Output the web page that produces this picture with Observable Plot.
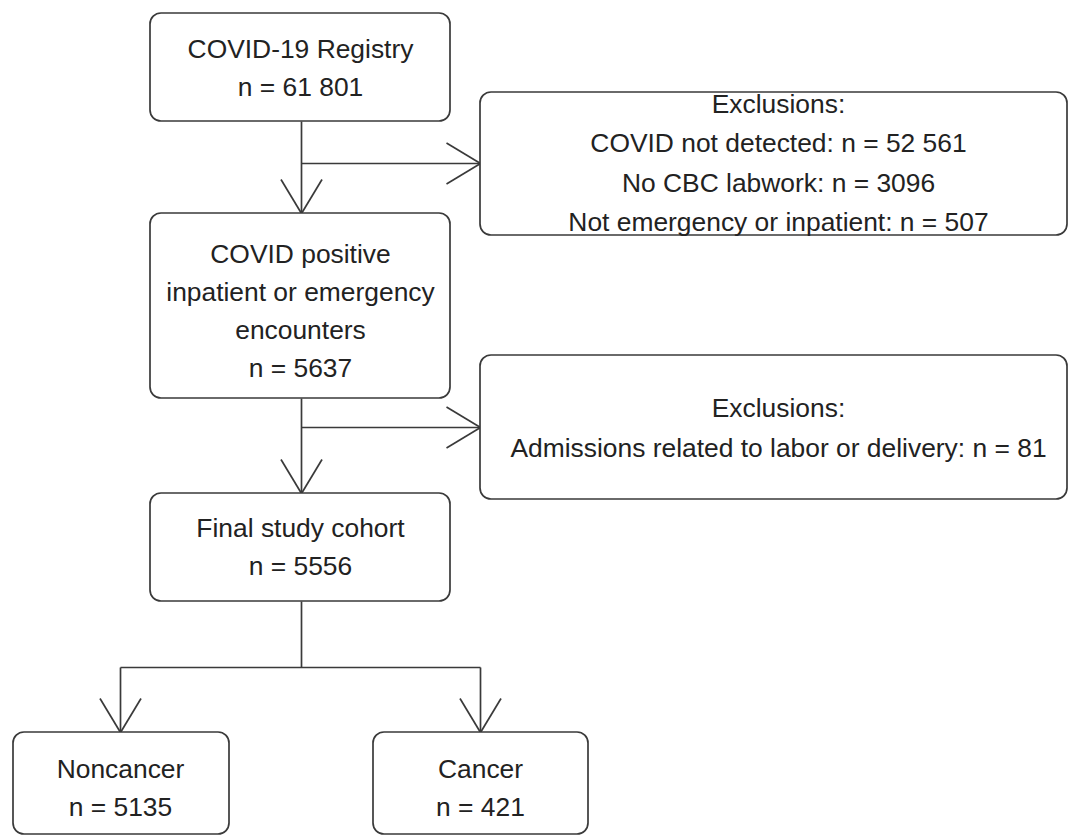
<!DOCTYPE html>
<html>
<head>
<meta charset="utf-8">
<script src="https://cdn.jsdelivr.net/npm/d3@7"></script>
<script src="https://cdn.jsdelivr.net/npm/@observablehq/plot@0.6"></script>
<style>
  html, body { margin: 0; padding: 0; background: #fff; }
  #chart svg { display: block; }
</style>
</head>
<body>
<div id="chart"></div>
<script>
// ---- Data: flowchart node titles and counts ----
const nodeTitles = [
  ["COVID-19 Registry"],
  ["Exclusions:", "COVID not detected", "No CBC labwork", "Not emergency or inpatient"],
  ["COVID positive", "inpatient or emergency", "encounters"],
  ["Exclusions:", "Admissions related to labor or delivery"],
  ["Final study cohort"],
  ["Noncancer"],
  ["Cancer"]
];
// counts per node (exclusion boxes list one count per reason)
const nodeCounts = [
  [61801],
  [52561, 3096, 507],
  [5637],
  [81],
  [5556],
  [5135],
  [421]
];
// node kind: "step" boxes show the count on its own line, "exclusion" boxes inline
const nodeKind = ["step", "exclusion", "step", "exclusion", "step", "step", "step"];

// ---- Layout (diagram coordinates, pixels) ----
const boxX1 = [150, 480, 150, 480, 150, 13, 373];
const boxX2 = [450, 1067, 450, 1067, 450, 229, 588];
const boxY1 = [13, 92, 213, 355, 493, 732, 732];
const boxY2 = [121, 235, 398, 499, 601, 834, 834];
const textX = [300, 778, 300, 778, 300, 120, 480];
const textY = [64, 159, 307, 424, 543, 784, 784];

// connector polylines (x,y pairs)
const connectors = [
  [[301, 121], [301, 213]],
  [[301, 163], [480, 163]],
  [[301, 398], [301, 493]],
  [[301, 427], [480, 427]],
  [[301, 601], [301, 667]],
  [[120, 667], [480, 667]],
  [[120, 667], [120, 732]],
  [[480, 667], [480, 732]]
];
// arrow tips: [x, y, direction]
const arrowTips = [
  [301, 213, "down"],
  [480, 163, "right"],
  [301, 493, "down"],
  [480, 427, "right"],
  [120, 732, "down"],
  [480, 732, "down"]
];

// ---- Build tables ----
function fmt(n) {
  if (n >= 10000) return d3.format(",")(n).replace(/,/g, " ");
  return String(n);
}
const nodes = nodeTitles.map((titles, i) => {
  let lines;
  if (nodeKind[i] === "step") {
    lines = [...titles, `n = ${fmt(nodeCounts[i][0])}`];
  } else {
    lines = [titles[0], ...titles.slice(1).map((t, j) => `${t}: n = ${fmt(nodeCounts[i][j])}`)];
  }
  return {kind: nodeKind[i], x1: boxX1[i], x2: boxX2[i], y1: boxY1[i], y2: boxY2[i], tx: textX[i], ty: textY[i], label: lines.join("\n")};
});

const segs = [];
connectors.forEach((pts) => {
  for (let j = 0; j < pts.length - 1; j++) {
    segs.push({x1: pts[j][0], y1: pts[j][1], x2: pts[j + 1][0], y2: pts[j + 1][1]});
  }
});
const wingBack = 34, wingSide = 20.5;
arrowTips.forEach(([x, y, dir]) => {
  if (dir === "down") {
    segs.push({x1: x - wingSide, y1: y - wingBack, x2: x, y2: y});
    segs.push({x1: x + wingSide, y1: y - wingBack, x2: x, y2: y});
  } else {
    segs.push({x1: x - wingBack, y1: y - wingSide, x2: x, y2: y});
    segs.push({x1: x - wingBack, y1: y + wingSide, x2: x, y2: y});
  }
});

const lineColor = "#3a3a3a";
const textColor = "#222";
const chart = Plot.plot({
  width: 1069,
  height: 837,
  margin: 0,
  style: {fontFamily: "'Liberation Sans', Arial, Helvetica, sans-serif", background: "#fff"},
  x: {domain: [0, 1069], range: [0, 1069], axis: null},
  y: {domain: [0, 837], range: [0, 837], axis: null},
  marks: [
    Plot.link(segs, {x1: "x1", y1: "y1", x2: "x2", y2: "y2", stroke: lineColor, strokeWidth: 1.7}),
    Plot.rect(nodes, {x1: "x1", x2: "x2", y1: "y1", y2: "y2", rx: 11, fill: "white", stroke: lineColor, strokeWidth: 1.7}),
    Plot.text(nodes.filter(d => d.kind === "step"), {x: "tx", y: "ty", text: "label", fontSize: 26.4, lineHeight: 1.44, lineAnchor: "middle", textAnchor: "middle", fill: textColor}),
    Plot.text(nodes.filter(d => d.kind === "exclusion"), {x: "tx", y: "ty", text: "label", fontSize: 26.4, lineHeight: 1.49, lineAnchor: "middle", textAnchor: "middle", fill: textColor})
  ]
});
document.getElementById("chart").appendChild(chart);
</script>
</body>
</html>
